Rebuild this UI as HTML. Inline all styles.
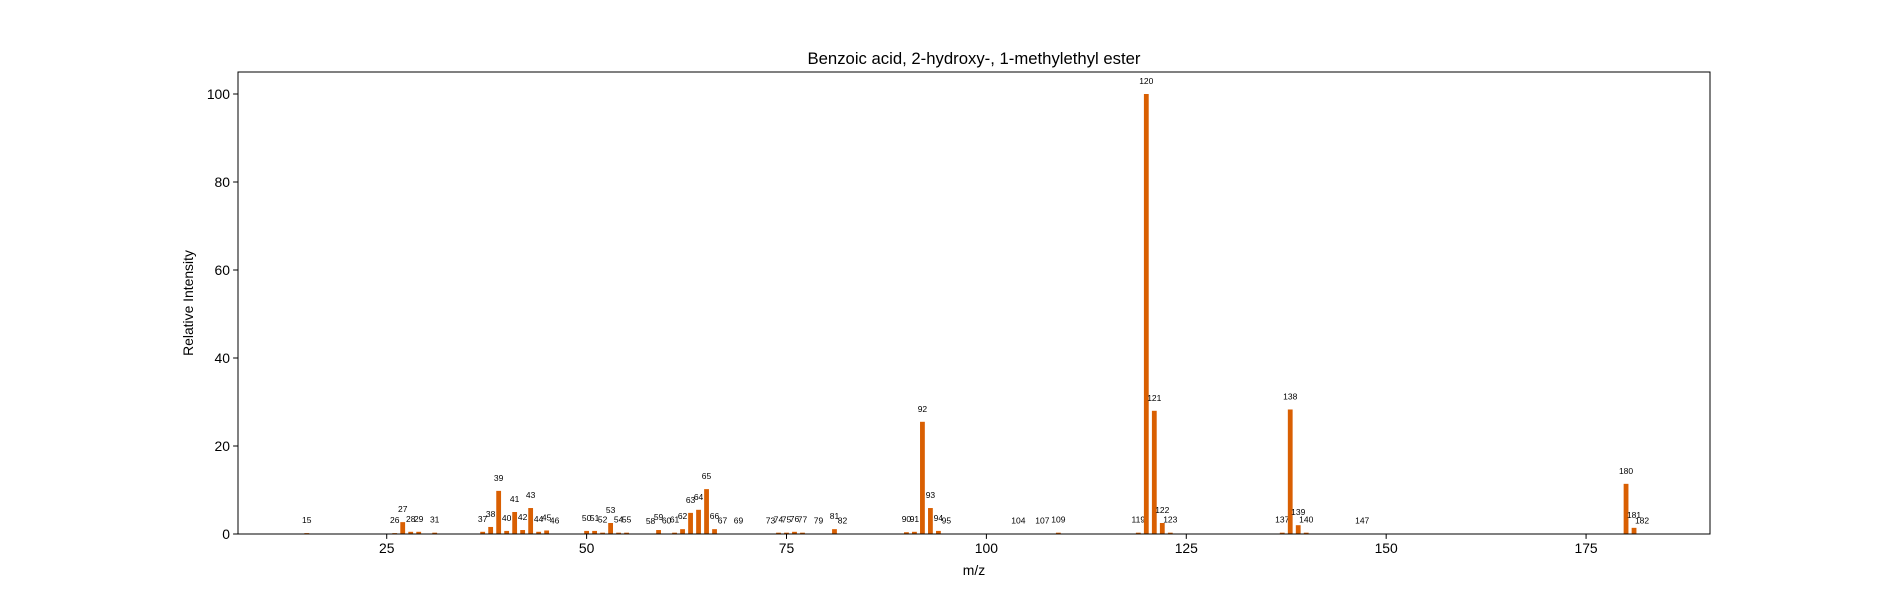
<!DOCTYPE html>
<html><head><meta charset="utf-8">
<style>
html,body{margin:0;padding:0;background:#fff;}
svg{display:block;font-family:"Liberation Sans","DejaVu Sans",sans-serif;}
</style></head>
<body>
<svg id="chart" width="1900" height="600" viewBox="0 0 1900 600"></svg>
<script>
const mzValues = [15,26,27,28,29,31,37,38,39,40,41,42,43,44,45,46,50,51,52,53,54,55,58,59,60,61,62,63,64,65,66,67,69,73,74,75,76,77,79,81,82,90,91,92,93,94,95,104,107,109,119,120,121,122,123,137,138,139,140,147,180,181,182];
const intensities = [0.2,0.2,2.7,0.5,0.5,0.3,0.5,1.6,9.8,0.7,5.0,0.9,5.9,0.5,0.8,0.1,0.7,0.7,0.3,2.5,0.3,0.3,0.05,0.9,0.1,0.3,1.1,4.8,5.5,10.2,1.1,0.1,0.1,0.1,0.3,0.3,0.5,0.3,0.1,1.1,0.1,0.4,0.5,25.5,5.9,0.7,0.1,0.1,0.1,0.3,0.3,100,28,2.5,0.3,0.3,28.3,2.0,0.3,0.1,11.4,1.4,0.1];
const xTicks = [25,50,75,100,125,150,175];
const yTicks = [0,20,40,60,80,100];

const L=238,R=1710,T=72,B=534;
const xMin=6.4,xMax=190.5,yMin=0,yMax=105;
const xs=v=>L+(v-xMin)/(xMax-xMin)*(R-L);
const ys=v=>B-(v-yMin)/(yMax-yMin)*(B-T);
const NS="http://www.w3.org/2000/svg";
const svg=document.getElementById('chart');
function mk(tag,attrs,parent){const e=document.createElementNS(NS,tag);for(const k in attrs)e.setAttribute(k,attrs[k]);(parent||svg).appendChild(e);return e;}

const title=mk('text',{x:(L+R)/2,y:64,'text-anchor':'middle','font-size':'16.7',fill:'#000'});
title.textContent='Benzoic acid, 2-hydroxy-, 1-methylethyl ester';



const bars=mk('g',{});


const bw=0.6*(R-L)/(xMax-xMin);
mzValues.forEach((m,i)=>{
  const v=intensities[i];
  const r=mk('rect',{x:xs(m)-bw/2,y:ys(v),width:bw,height:Math.max(0,B-ys(v)),fill:'#d95f02'},bars);
  
  
  const t=mk('text',{x:xs(m),y:ys(v)-10,'text-anchor':'middle','font-size':'8.5',fill:'#000'},bars);
  t.textContent=String(m);
  
  
});

const frame=mk('rect',{x:L,y:T,width:R-L,height:B-T,fill:'none',stroke:'#000','stroke-width':1});



const xa=mk('g',{});


xTicks.forEach(v=>{
  mk('line',{x1:xs(v),x2:xs(v),y1:B,y2:B+4.9,stroke:'#000','stroke-width':1},xa);
  const t=mk('text',{x:xs(v),y:B+19,'text-anchor':'middle','font-size':'13.9',fill:'#000'},xa);
  t.textContent=v;
  
  
});
const xl=mk('text',{x:(L+R)/2,y:575,'text-anchor':'middle','font-size':'13.9',fill:'#000'});
xl.textContent='m/z';



const ya=mk('g',{});


yTicks.forEach(v=>{
  mk('line',{x1:L-4.9,x2:L,y1:ys(v),y2:ys(v),stroke:'#000','stroke-width':1},ya);
  const t=mk('text',{x:L-8,y:ys(v)+5,'text-anchor':'end','font-size':'13.9',fill:'#000'},ya);
  t.textContent=v;
  
  
});
const yl=mk('text',{x:0,y:0,'text-anchor':'middle','font-size':'13.9',fill:'#000',transform:`translate(193,${(T+B)/2}) rotate(-90)`});
yl.textContent='Relative Intensity';


</script>
</body></html>
